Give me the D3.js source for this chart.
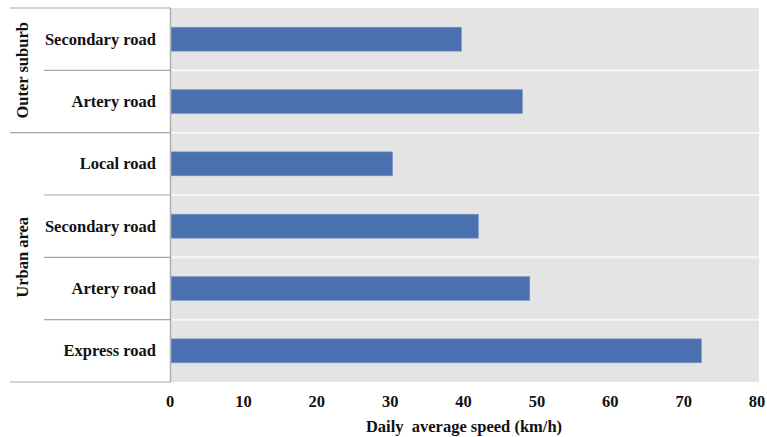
<!DOCTYPE html>
<html>
<head>
<meta charset="utf-8">
<script src="https://cdn.jsdelivr.net/npm/d3@7"></script>
<style>
  html, body { margin: 0; padding: 0; background: #ffffff; }
  svg { display: block; }
  text { font-family: "Liberation Serif", "Times New Roman", serif; font-weight: bold; fill: #111; }
</style>
</head>
<body>
<svg id="chart" width="767" height="437"></svg>
<script>
const categories = ["Secondary road", "Artery road", "Local road", "Secondary road", "Artery road", "Express road"];
const groupOfCategory = ["Outer suburb", "Outer suburb", "Urban area", "Urban area", "Urban area", "Urban area"];
const groupNames = ["Outer suburb", "Urban area"];
const speedValues = [39.6, 47.9, 30.2, 41.9, 48.9, 72.3];
const xTicks = [0, 10, 20, 30, 40, 50, 60, 70, 80];
const xTitle = "Daily  average speed (km/h)";

const svg = d3.select("#chart");
const plot = { left: 171, right: 759, top: 8, bottom: 382 };

const x = d3.scaleLinear().domain([0, 80]).range([171, 758]);
const idx = categories.map((d, i) => i);
const y = d3.scaleBand().domain(idx).range([plot.top, plot.bottom]).paddingInner(0).paddingOuter(0);
const barPad = 0.615;

// background
svg.append("rect")
  .attr("x", plot.left).attr("y", plot.top)
  .attr("width", plot.right - plot.left).attr("height", plot.bottom - plot.top)
  .attr("fill", "#e4e4e4");

// white horizontal separators within plot
svg.append("g").selectAll("line")
  .data(idx.slice(1))
  .join("line")
  .attr("x1", plot.left).attr("x2", plot.right)
  .attr("y1", d => y(d)).attr("y2", d => y(d))
  .attr("stroke", "#f7f7f7").attr("stroke-width", 2);

// bars
const bw = y.bandwidth();
svg.append("g").selectAll("rect")
  .data(idx)
  .join("rect")
  .attr("x", x(0))
  .attr("y", d => y(d) + bw * barPad / 2)
  .attr("width", d => x(speedValues[d]) - x(0))
  .attr("height", bw * (1 - barPad))
  .attr("fill", "#4a70b0")
  .attr("stroke", "#7f9ccc").attr("stroke-width", 0.6);

// y axis line
svg.append("line")
  .attr("x1", 170.5).attr("x2", 170.5)
  .attr("y1", plot.top).attr("y2", plot.bottom)
  .attr("stroke", "#b0b0b0").attr("stroke-width", 1.5);

// label area separators
const sepG = svg.append("g");
const boundaries = d3.range(0, categories.length + 1);
boundaries.forEach(b => {
  const yy = b < categories.length ? y(b) : plot.bottom;
  const isGroupEdge = b === 0 || b === categories.length || groupOfCategory[b] !== groupOfCategory[b - 1];
  sepG.append("line")
    .attr("x1", isGroupEdge ? 10 : 44).attr("x2", 171)
    .attr("y1", yy).attr("y2", yy)
    .attr("stroke", "#a6a6a6").attr("stroke-width", 1.2);
});

// category labels
svg.append("g").selectAll("text")
  .data(idx)
  .join("text")
  .attr("x", 156)
  .attr("y", d => y(d) + bw / 2)
  .attr("text-anchor", "end")
  .attr("dominant-baseline", "central")
  .attr("font-size", "16.5px")
  .text(d => categories[d]);

// group labels
groupNames.forEach(g => {
  const members = idx.filter(i => groupOfCategory[i] === g);
  const y0 = y(members[0]);
  const y1 = y(members[members.length - 1]) + bw;
  const cy = (y0 + y1) / 2;
  svg.append("text")
    .attr("transform", `translate(22,${cy}) rotate(-90)`)
    .attr("text-anchor", "middle")
    .attr("dominant-baseline", "central")
    .attr("font-size", "16.5px")
    .text(g);
});

// x axis
const xAxis = d3.axisBottom(x).tickValues(xTicks).tickSize(0).tickPadding(0).tickFormat(d3.format("d"));
const gx = svg.append("g").attr("transform", `translate(0,${plot.bottom})`).call(xAxis);
gx.select(".domain").remove();
gx.selectAll("text")
  .attr("x", -1.5)
  .attr("y", 20)
  .attr("dy", "0.32em")
  .attr("font-size", "16.5px")
  .attr("font-family", "Liberation Serif, serif")
  .attr("font-weight", "bold")
  .attr("fill", "#111");

svg.append("text")
  .attr("x", 464)
  .attr("y", 426)
  .attr("text-anchor", "middle")
  .attr("dominant-baseline", "central")
  .attr("font-size", "16.5px")
  .style("white-space", "pre")
  .text(xTitle);
</script>
</body>
</html>
